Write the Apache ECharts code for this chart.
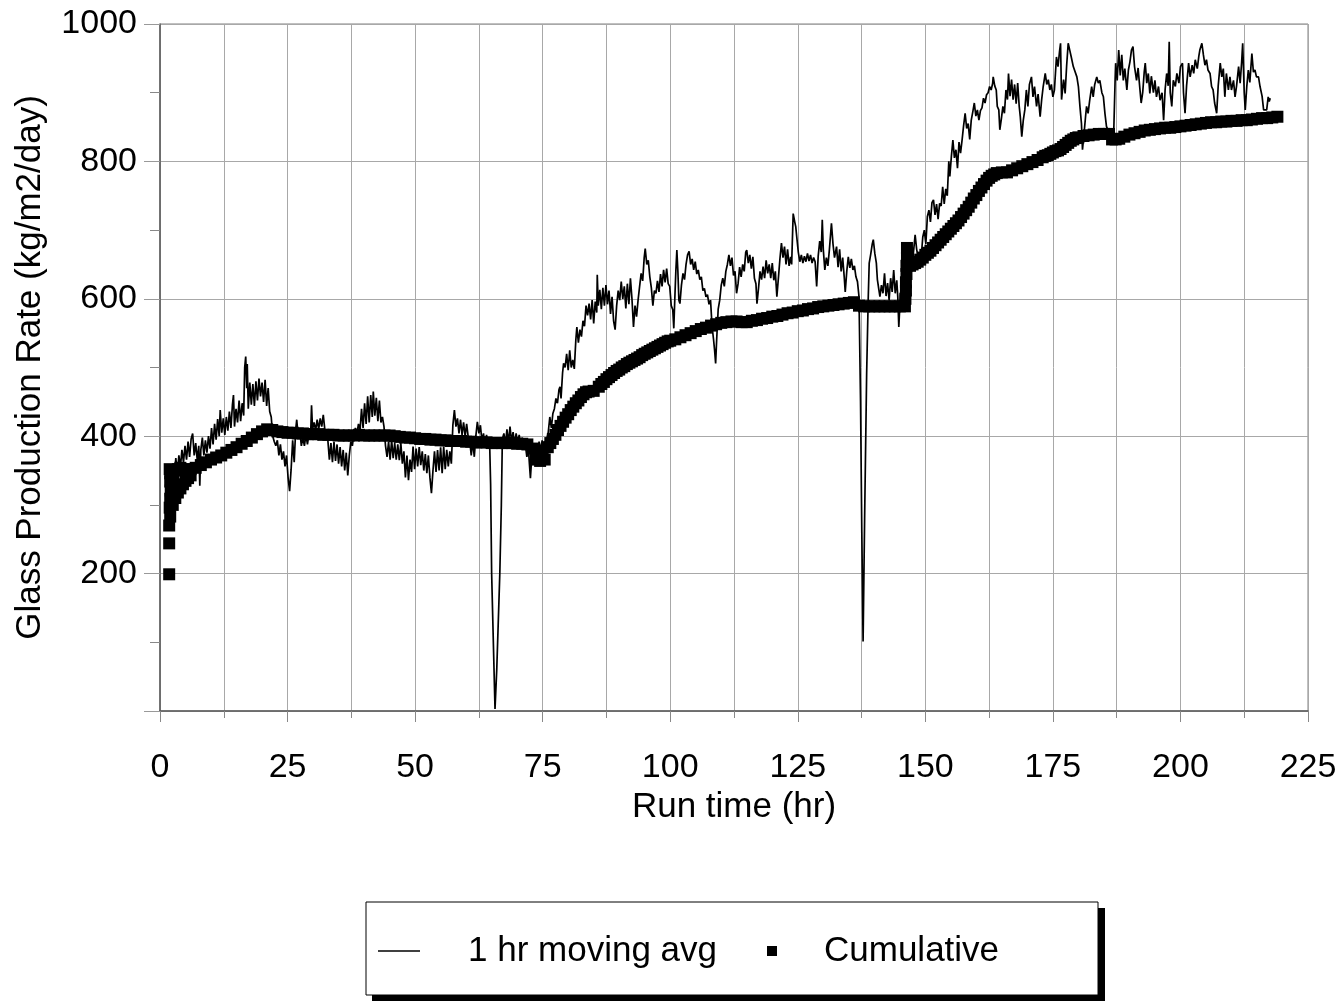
<!DOCTYPE html>
<html>
<head>
<meta charset="utf-8">
<title>Glass Production Rate</title>
<script src="https://cdn.jsdelivr.net/npm/echarts/dist/echarts.min.js"></script>
<style>
  html, body { margin: 0; padding: 0; background: #fff; }
  #chart { width: 1344px; height: 1008px; }
</style>
</head>
<body>
<div id="chart"></div>
<script>
// Axis ranges and tick steps
const xRange = [0, 225];
const xStep = 25;
const yRange = [0, 1000];
const yStep = 200;

// Series names
const seriesNames = ['1 hr moving avg', 'Cumulative'];

// 1 hr moving average: [run time (hr), rate (kg/m2/day)]
const movingAvg = [
[2.5,352],[2.8,340],[3.1,368],[3.4,345],[3.7,372],[4.0,355],[4.3,380],[4.6,362],[4.9,386],[5.2,366],
[5.5,392],[5.8,370],[6.1,396],[6.4,404],[6.7,372],[7.0,390],[7.3,365],[7.6,386],[7.8,328],[8.0,380],
[8.3,398],[8.6,372],[8.9,394],[9.2,376],[9.5,400],[9.8,382],[10.1,412],[10.4,388],[10.7,418],[11.0,395],
[11.3,425],[11.6,400],[11.8,438],[12.1,405],[12.4,426],[12.7,402],[13.0,428],[13.3,408],[13.6,436],[13.9,412],
[14.2,446],[14.4,460],[14.6,414],[14.9,440],[15.2,420],[15.5,452],[15.8,422],[16.1,448],[16.4,430],[16.6,500],
[16.8,516],[17.0,470],[17.1,505],[17.3,440],[17.6,478],[17.9,446],[18.2,476],[18.5,444],[18.8,480],[19.1,452],
[19.4,484],[19.7,458],[20.0,478],[20.3,450],[20.6,482],[20.9,444],[21.2,470],[21.5,436],[21.8,428],[22.1,400],
[22.4,392],[22.7,386],[23.0,394],[23.3,372],[23.6,388],[23.9,366],[24.2,378],[24.5,356],[24.8,372],[25.1,340],
[25.4,320],[25.7,352],[26.0,394],[26.3,362],[26.6,410],[26.8,424],[27.1,398],[27.4,408],[27.7,386],[28.0,398],
[28.3,386],[28.6,402],[28.9,388],[29.2,404],[29.5,396],[29.7,445],[29.9,410],[30.2,420],[30.5,408],[30.8,424],
[31.1,410],[31.4,426],[31.7,414],[32.0,431],[32.3,410],[32.6,404],[32.9,394],[33.2,366],[33.5,390],[33.8,362],
[34.1,392],[34.4,364],[34.7,388],[35.0,360],[35.3,384],[35.6,356],[35.9,380],[36.2,350],[36.5,376],[36.8,343],
[37.1,372],[37.4,392],[37.7,386],[38.0,404],[38.3,412],[38.6,404],[38.9,418],[39.2,408],[39.5,440],[39.8,412],
[40.1,448],[40.4,418],[40.7,458],[41.0,420],[41.3,460],[41.6,428],[41.8,465],[42.1,430],[42.4,456],[42.7,422],
[43.0,452],[43.3,420],[43.6,428],[43.9,414],[44.2,386],[44.5,370],[44.8,392],[45.1,366],[45.4,394],[45.7,368],
[46.0,390],[46.3,366],[46.6,388],[46.9,365],[47.2,390],[47.5,360],[47.8,378],[48.1,340],[48.4,372],[48.7,336],
[49.0,366],[49.3,348],[49.6,385],[49.9,352],[50.2,382],[50.5,356],[50.8,384],[51.1,358],[51.4,378],[51.7,350],
[52.0,374],[52.3,346],[52.6,372],[52.9,340],[53.2,317],[53.5,350],[53.8,378],[54.1,348],[54.4,380],[54.7,350],
[55.0,384],[55.3,346],[55.6,385],[55.9,352],[56.2,380],[56.5,356],[56.8,378],[57.1,360],[57.4,416],[57.7,438],
[58.0,414],[58.3,426],[58.6,404],[58.9,424],[59.2,402],[59.5,420],[59.8,400],[60.1,418],[60.4,399],[60.7,394],
[61.0,372],[61.3,392],[61.6,370],[61.9,400],[62.2,421],[62.5,404],[62.8,416],[63.1,392],[63.4,404],[63.7,386],
[64.0,402],[64.3,385],[64.6,392],[64.8,330],[65.0,200],[65.3,110],[65.66,3],[66.0,60],[66.3,130],[66.6,200],
[66.9,300],[67.1,396],[67.4,404],[67.7,388],[68.0,410],[68.3,390],[68.6,414],[68.9,392],[69.2,406],[69.5,388],
[69.8,404],[70.1,390],[70.4,402],[70.7,386],[71.0,398],[71.3,384],[71.6,388],[71.9,370],[72.2,382],[72.4,360],
[72.6,339],[72.8,362],[73.1,378],[73.4,366],[73.7,386],[74.0,376],[74.3,392],[74.6,380],[74.9,394],[75.2,384],
[75.5,392],[75.8,396],[76.1,406],[76.4,428],[76.7,412],[77.0,433],[77.3,440],[77.6,455],[77.9,448],[78.2,468],
[78.4,472],[78.6,455],[78.9,492],[79.1,506],[79.4,500],[79.7,520],[80.0,496],[80.3,525],[80.6,500],[80.9,511],
[81.2,498],[81.5,540],[81.7,559],[82.0,536],[82.3,555],[82.6,545],[82.9,568],[83.2,560],[83.5,590],[83.8,576],
[84.1,593],[84.4,570],[84.7,598],[85.0,564],[85.3,596],[85.6,580],[85.7,635],[85.9,590],[86.2,613],[86.5,585],
[86.8,616],[87.1,590],[87.4,620],[87.7,592],[88.0,612],[88.3,578],[88.6,603],[88.9,568],[89.2,555],[89.5,590],
[89.8,612],[90.1,598],[90.4,625],[90.7,600],[91.0,618],[91.3,586],[91.6,622],[91.9,592],[92.2,630],[92.5,600],
[92.8,559],[93.1,590],[93.4,574],[93.7,598],[94.0,618],[94.3,637],[94.6,626],[94.9,660],[95.1,673],[95.4,650],
[95.7,656],[96.0,632],[96.3,616],[96.6,590],[96.9,612],[97.2,608],[97.5,626],[97.8,610],[98.1,636],[98.4,618],
[98.7,642],[99.0,624],[99.3,644],[99.6,622],[99.9,618],[100.2,590],[100.5,584],[100.7,557],[100.9,600],[101.1,640],
[101.3,671],[101.5,640],[101.7,598],[101.9,593],[102.2,620],[102.5,637],[102.8,628],[103.1,650],[103.4,664],[103.7,669],
[104.0,650],[104.3,658],[104.6,642],[104.9,654],[105.2,636],[105.5,642],[105.8,628],[106.1,632],[106.4,612],[106.7,615],
[107.0,603],[107.3,606],[107.6,592],[107.9,598],[108.2,560],[108.5,540],[108.7,525],[108.9,506],[109.1,540],[109.4,585],
[109.7,598],[110.0,620],[110.3,630],[110.6,618],[110.9,640],[111.2,650],[111.5,664],[111.8,648],[112.1,660],[112.4,634],
[112.7,640],[113.0,608],[113.3,622],[113.6,646],[113.9,632],[114.2,650],[114.5,640],[114.8,668],[115.0,671],[115.3,652],
[115.6,664],[115.9,644],[116.2,661],[116.5,630],[116.8,622],[117.0,593],[117.3,615],[117.6,640],[117.9,628],[118.2,647],
[118.5,630],[118.8,656],[119.1,637],[119.4,650],[119.7,630],[120.0,652],[120.3,627],[120.6,640],[120.9,603],[121.2,630],
[121.5,658],[121.8,681],[122.1,660],[122.4,676],[122.7,650],[123.0,672],[123.3,648],[123.6,661],[123.8,650],[124.0,700],
[124.1,724],[124.4,712],[124.6,705],[124.8,690],[125.1,668],[125.4,654],[125.7,664],[126.0,652],[126.3,662],[126.6,654],
[126.9,666],[127.2,655],[127.5,664],[127.8,652],[128.1,660],[128.4,654],[128.7,618],[129.0,662],[129.3,684],[129.6,668],
[129.8,715],[130.0,672],[130.3,642],[130.6,660],[130.9,648],[131.2,672],[131.6,710],[131.9,680],[132.2,660],[132.6,676],
[132.9,646],[133.2,672],[133.5,640],[133.8,660],[134.1,632],[134.3,610],[134.6,640],[134.9,661],[135.2,645],[135.5,658],
[135.8,642],[136.1,648],[136.4,632],[136.7,625],[137.0,603],[137.3,450],[137.55,260],[137.8,101],[138.1,280],[138.5,492],
[138.8,598],[139.0,652],[139.3,665],[139.6,680],[139.8,686],[140.1,666],[140.4,652],[140.6,628],[140.9,613],[141.1,603],
[141.4,620],[141.7,608],[142.0,637],[142.3,604],[142.6,623],[142.9,598],[143.2,630],[143.5,610],[143.8,642],[144.1,608],
[144.4,627],[144.6,603],[144.8,559],[145.1,605],[145.4,623],[145.7,612],[146.0,652],[146.3,636],[146.6,670],[147.0,655],
[147.3,676],[147.6,662],[148.0,693],[148.3,672],[148.6,660],[148.9,645],[149.2,662],[149.5,690],[149.8,700],[150.1,680],
[150.4,720],[150.7,729],[151.0,712],[151.3,740],[151.6,744],[151.9,722],[152.2,738],[152.5,716],[152.8,739],[153.1,735],
[153.4,763],[153.7,738],[154.0,760],[154.3,750],[154.6,800],[154.8,778],[155.1,807],[155.4,831],[155.7,805],[156.0,817],
[156.3,790],[156.6,828],[156.9,812],[157.2,831],[157.5,852],[157.8,870],[158.1,848],[158.4,855],[158.7,832],[159.0,860],
[159.3,872],[159.6,885],[159.9,866],[160.2,875],[160.5,860],[160.8,874],[161.1,878],[161.4,892],[161.7,885],[162.0,897],
[162.3,900],[162.6,909],[162.9,904],[163.2,914],[163.3,923],[163.6,910],[163.9,904],[164.1,880],[164.4,875],[164.6,846],
[164.9,862],[165.2,880],[165.5,870],[165.8,904],[166.1,890],[166.3,928],[166.6,895],[166.9,919],[167.2,890],[167.5,912],
[167.8,884],[168.1,914],[168.4,880],[168.6,866],[168.9,836],[169.2,860],[169.5,875],[169.8,904],[170.1,880],[170.4,912],
[170.8,923],[171.1,894],[171.4,909],[171.8,880],[172.1,898],[172.5,865],[172.8,890],[173.1,909],[173.5,928],[173.8,912],
[174.1,919],[174.4,904],[174.7,912],[175.0,894],[175.3,904],[175.7,952],[176.0,938],[176.3,960],[176.5,972],[176.7,890],
[176.9,905],[177.1,919],[177.4,899],[177.7,940],[178.0,972],[178.3,962],[178.6,952],[179.0,938],[179.3,940],[179.7,923],
[180.0,909],[180.3,880],[180.6,855],[180.8,817],[181.1,840],[181.4,865],[181.6,880],[181.9,870],[182.2,888],[182.6,909],
[182.9,894],[183.2,912],[183.6,923],[183.9,914],[184.2,918],[184.6,900],[184.9,894],[185.2,870],[185.5,851],[186.2,838],
[186.9,836],[187.2,920],[187.3,943],[187.6,918],[187.9,962],[188.2,925],[188.5,955],[188.8,918],[189.1,935],[189.5,904],
[189.8,933],[190.1,945],[190.4,962],[190.7,967],[191.0,938],[191.4,918],[191.7,936],[192.0,910],[192.3,885],[192.6,900],
[192.9,930],[193.1,943],[193.4,914],[193.7,928],[194.0,899],[194.3,924],[194.7,900],[195.0,918],[195.3,894],[195.7,909],
[196.0,889],[196.4,900],[196.7,860],[197.0,905],[197.3,928],[197.6,910],[197.8,974],[198.0,900],[198.3,880],[198.6,918],
[199.0,909],[199.3,928],[199.7,914],[200.0,938],[200.4,943],[200.6,900],[200.9,870],[201.2,910],[201.6,943],[201.9,923],
[202.3,940],[202.6,928],[202.9,948],[203.3,935],[203.6,953],[203.8,962],[204.2,972],[204.5,955],[204.8,940],[205.1,948],
[205.4,933],[205.8,928],[206.1,909],[206.4,904],[206.7,885],[207.1,870],[207.4,910],[207.8,943],[208.1,923],[208.4,935],
[208.7,894],[209.0,928],[209.4,904],[209.7,923],[210.0,904],[210.4,918],[210.7,894],[211.0,910],[211.4,938],[211.7,914],
[212.0,945],[212.2,972],[212.5,900],[212.7,875],[213.0,909],[213.3,933],[213.6,915],[214.0,957],[214.3,930],[214.6,933],
[214.9,923],[215.3,923],[215.6,909],[216.0,895],[216.3,875],[216.9,875],[217.2,894],[217.4,887],[217.6,892]
];

// Cumulative rate: [run time (hr), rate (kg/m2/day)]
const cumulative = [
[1.8,199],[1.8,244],[1.8,270],[2.0,283],[1.9,296],[2.0,309],[2.1,321],[2.0,334],[2.0,346],[1.9,352],
[2.5,300],[3.0,310],[3.5,318],[4.0,324],[4.5,330],[5.0,335],[5.5,339],[6.0,343],[2.6,340],[3.0,350],
[3.5,352],[4.0,354],[5.0,352],[6.0,352],[7,354],[8,358],[9,362],[10,366],[11,369],[12,372],
[13,376],[14,380],[15,384],[16,389],[17,393],[18,398],[19,403],[20,407],[21,410],[22,409],
[23,407],[24,406],[25,405],[26,405],[27,404],[28,404],[29,403],[30,403],[31,403],[32,402],
[33,402],[34,402],[35,401],[36,401],[37,401],[38,401],[39,402],[40,401],[41,401],[42,401],
[43,401],[44,401],[45,401],[46,400],[47,399],[48,398],[49,398],[50,397],[51,396],[52,396],
[53,395],[54,395],[55,394],[56,394],[57,393],[58,393],[59,393],[60,392],[61,392],[62,391],
[63,391],[64,391],[65,390],[66,390],[67,390],[68,390],[69,390],[70,389],[71,389],[72,388],
[73,382],[73.6,366],[74,376],[74.5,364],[75,374],[75.4,366],[76,384],[76.5,390],[77,396],[77.5,402],
[78,409],[78.5,415],[79,421],[79.5,427],[80,432],[80.5,438],[81,443],[81.5,448],[82,452],[82.5,457],
[83,461],[83.5,464],[84,465],[85,466],[86,472],[86.5,476],[87,479],[87.5,483],[88,486],[88.5,489],
[89,492],[89.5,495],[90,497],[90.5,500],[91,502],[91.5,505],[92,507],[92.5,509],[93,511],[93.5,513],
[94,515],[94.5,518],[95,520],[95.5,522],[96,524],[96.5,526],[97,528],[97.5,530],[98,532],[98.5,534],
[99,536],[99.5,538],[100,539],[101,541],[102,544],[103,547],[104,550],[105,553],[106,556],[107,558],
[108,561],[109,563],[110,565],[111,566],[112,567],[113,567],[114,566],[115,566],[116,568],[117,569],
[118,571],[119,572],[120,574],[121,575],[122,577],[123,579],[124,580],[125,582],[126,583],[127,585],
[128,586],[129,588],[130,589],[131,590],[132,591],[133,592],[134,593],[135,594],[136,595],[137,590],
[138,589],[139,589],[140,589],[141,589],[142,589],[143,589],[144,589],[145,589],[146,589],[146.1,600],
[146.2,612],[146.2,624],[146.3,636],[146.3,648],[146.4,660],[146.4,674],[147,648],[147.5,650],[148,652],[148.5,654],
[149,657],[149.5,660],[150,664],[150.5,667],[151,670],[151.5,674],[152,678],[152.5,682],[153,686],[153.5,690],
[154,694],[154.5,698],[155,702],[155.5,706],[156,710],[156.5,714],[157,719],[157.5,724],[158,729],[158.5,734],
[159,740],[159.5,746],[160,751],[160.5,757],[161,762],[161.5,767],[162,772],[162.5,776],[163,779],[163.5,781],
[164,783],[165,784],[166,784],[167,787],[168,790],[169,793],[170,796],[171,799],[172,802],[173,806],
[173.5,808],[174,809],[174.5,811],[175,813],[175.5,815],[176,816],[176.5,818],[177,821],[177.5,824],[178,827],
[178.5,830],[179,832],[179.5,834],[180,835],[181,837],[182,838],[183,839],[184,840],[185,840],[186,840],
[186.6,832],[187.3,832],[188,833],[189,836],[190,839],[191,841],[192,843],[193,845],[194,846],[195,847],
[196,848],[197,849],[198,849],[199,850],[200,851],[201,852],[202,853],[203,854],[204,855],[205,856],
[206,857],[207,857],[208,858],[209,858],[210,859],[211,859],[212,860],[213,860],[214,861],[215,862],
[216,863],[217,863],[218,864],[219,865]
];

const FONT = '"Liberation Sans", Arial, Helvetica, sans-serif';
const gridColor = '#a8a8a8';
const axisColor = '#5a5a5a';

const chart = echarts.init(document.getElementById('chart'), null, { renderer: 'canvas' });

chart.setOption({
  animation: false,
  backgroundColor: '#ffffff',
  textStyle: { fontFamily: FONT, color: '#000' },
  grid: {
    left: 160, right: 36, top: 24, bottom: 297,
    show: true, borderColor: '#808080', borderWidth: 1, backgroundColor: '#fff'
  },
  xAxis: {
    type: 'value',
    min: xRange[0], max: xRange[1], interval: xStep,
    name: 'Run time (hr)',
    nameLocation: 'middle',
    nameGap: 77,
    nameTextStyle: { fontFamily: FONT, fontSize: 35, color: '#000' },
    axisLine: { show: true, onZero: false, lineStyle: { color: axisColor, width: 1.5 } },
    axisTick: { show: true, length: 11, lineStyle: { color: '#888' } },
    minorTick: { show: true, splitNumber: 2, length: 7, lineStyle: { color: '#888' } },
    axisLabel: { fontFamily: FONT, fontSize: 34, color: '#000', margin: 40 },
    splitLine: { show: true, lineStyle: { color: gridColor, width: 1 } },
    minorSplitLine: { show: true, lineStyle: { color: gridColor, width: 1 } }
  },
  yAxis: {
    type: 'value',
    min: yRange[0], max: yRange[1], interval: yStep,
    name: 'Glass Production Rate (kg/m2/day)',
    nameLocation: 'middle',
    nameGap: 112,
    nameTextStyle: { fontFamily: FONT, fontSize: 35, color: '#000' },
    axisLine: { show: true, onZero: false, lineStyle: { color: axisColor, width: 1.5 } },
    axisTick: { show: true, length: 16, lineStyle: { color: '#999' } },
    minorTick: { show: true, splitNumber: 2, length: 10, lineStyle: { color: '#888' } },
    axisLabel: {
      fontFamily: FONT, fontSize: 34, color: '#000', margin: 23, showMinLabel: false,
      formatter: (v) => String(v)
    },
    splitLine: { show: true, lineStyle: { color: gridColor, width: 1 } }
  },
  legend: [
    {
      data: [{ name: seriesNames[0], icon: 'rect' }],
      left: 378, top: 931, padding: 0,
      itemWidth: 42, itemHeight: 1.5,
      formatter: '{gap| }{name}',
      textStyle: { fontFamily: FONT, fontSize: 35, color: '#000', lineHeight: 40,
        rich: { gap: { width: 43 } } }
    },
    {
      data: [{ name: seriesNames[1], icon: 'rect' }],
      left: 767, top: 931, padding: 0,
      itemWidth: 10, itemHeight: 10,
      formatter: '{gap| }{name}',
      textStyle: { fontFamily: FONT, fontSize: 35, color: '#000', lineHeight: 40,
        rich: { gap: { width: 42 } } }
    }
  ],
  graphic: [
    { type: 'rect', z: 1, shape: { x: 372, y: 908, width: 733, height: 93 }, style: { fill: '#000' } },
    { type: 'rect', z: 2, shape: { x: 366, y: 902, width: 732, height: 93 },
      style: { fill: '#fff', stroke: '#000', lineWidth: 1 } }
  ],
  series: [
    {
      name: seriesNames[1],
      type: 'scatter',
      data: cumulative,
      symbol: 'rect',
      symbolSize: [12, 12],
      itemStyle: { color: '#000', opacity: 1 },
      z: 3
    },
    {
      name: seriesNames[0],
      type: 'line',
      data: movingAvg,
      showSymbol: false,
      symbol: 'none',
      lineStyle: { color: '#000', width: 1.7 },
      itemStyle: { color: '#000' },
      z: 4
    }
  ]
});
</script>
</body>
</html>
